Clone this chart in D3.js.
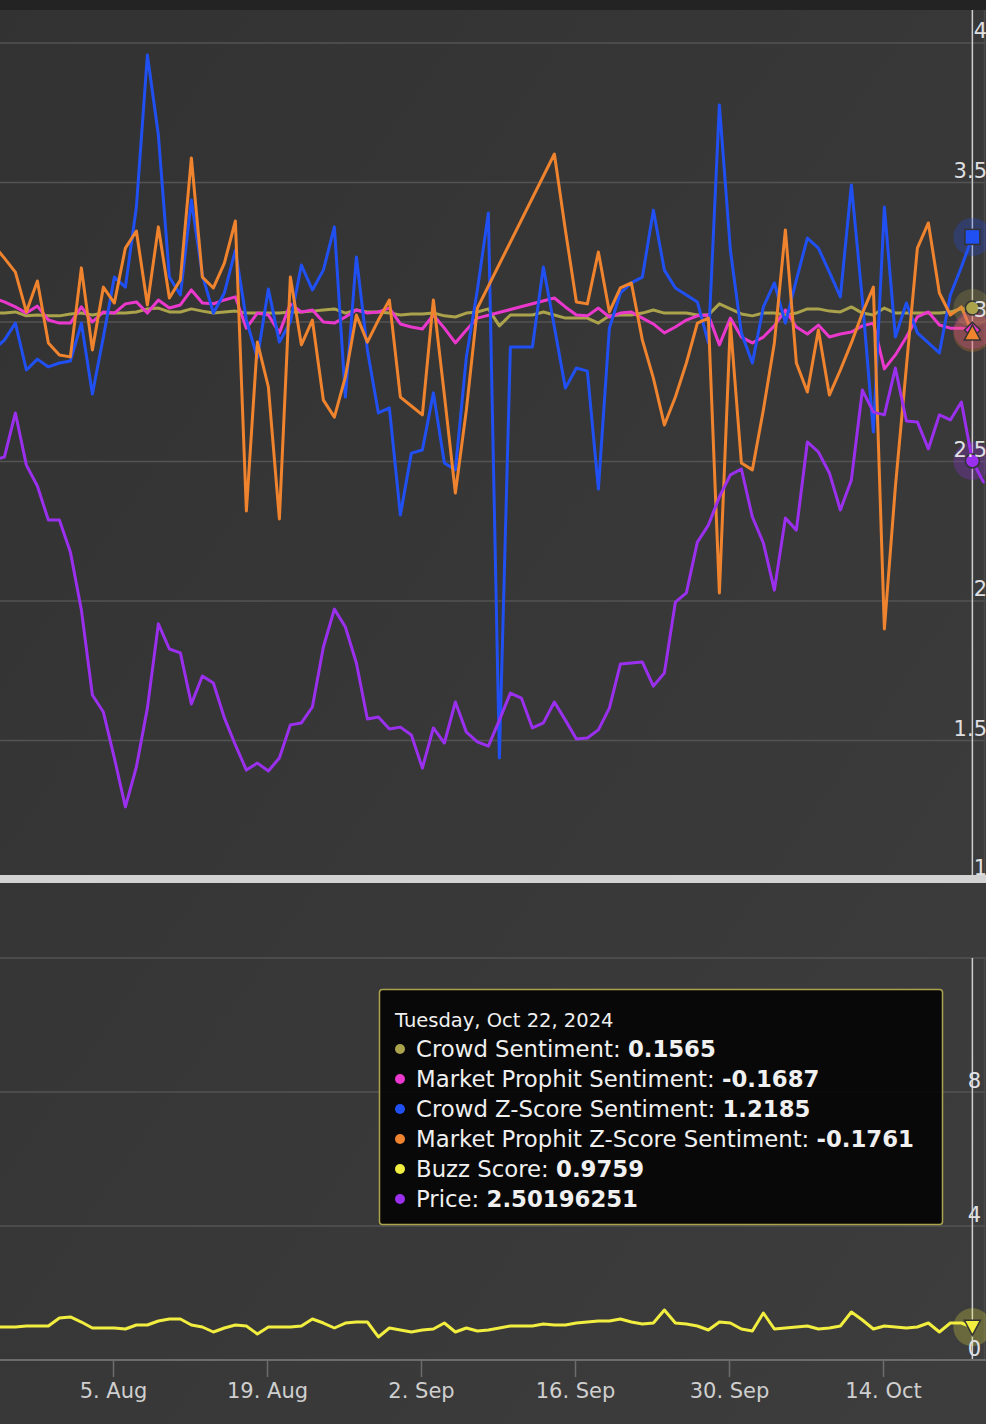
<!DOCTYPE html>
<html><head><meta charset="utf-8">
<script src="https://cdn.jsdelivr.net/npm/d3@7"></script>
<style>html,body{margin:0;padding:0;background:#363636;overflow:hidden}svg{display:block}</style>
</head><body><svg id="c" width="986" height="1424"></svg>
<script>
// ---- data (daily, starting Jul 25 2024) ----
const startDate = "2024-07-25";
const xTickDates = ["2024-08-05","2024-08-19","2024-09-02","2024-09-16","2024-09-30","2024-10-14"];
const topTicks = [1,1.5,2,2.5,3,3.5,4];
const bottomTicks = [0,4,8,12];
const bottomLabelTicks = [0,4,8];
const seriesNames = ["Crowd Sentiment","Market Prophit Sentiment","Crowd Z-Score Sentiment","Market Prophit Z-Score Sentiment","Buzz Score","Price"];
const tooltipDate = "Tuesday, Oct 22, 2024";
const tooltipValues = ["0.1565","-0.1687","1.2185","-0.1761","0.9759","2.50196251"];
const hoverIndex = 89; // Oct 22

const crowdSentiment = [3.032,3.032,3.036,3.022,3.025,3.022,3.022,3.029,3.032,3.025,3.032,
 3.032,3.032,3.036,3.047,3.050,3.036,3.036,3.047,3.039,3.032,
 3.036,3.039,3.032,3.032,3.032,3.032,3.036,3.036,3.039,3.043,
 3.047,3.032,3.043,3.036,3.036,3.032,3.025,3.029,3.029,3.032,
 3.022,3.018,3.032,3.036,3.047,2.986,3.025,3.025,3.025,3.036,
 3.025,3.014,3.014,3.014,2.996,3.022,3.025,3.025,3.032,3.043,
 3.032,3.032,3.032,3.025,3.025,3.065,3.047,3.029,3.022,3.032,
 3.032,3.025,3.032,3.047,3.047,3.039,3.036,3.054,3.032,3.025,
 3.050,3.032,3.032,3.032,3.032,3.032,3.036,3.047,3.050];
const marketProphitSentiment = [3.086,3.072,3.054,3.032,3.057,3.007,2.996,2.996,3.054,3.000,3.036,
 3.032,3.065,3.072,3.032,3.079,3.050,3.061,3.115,3.068,3.065,
 3.079,3.090,2.978,3.032,3.025,2.961,3.065,3.036,3.043,3.000,
 2.996,3.018,3.043,3.032,3.036,3.050,2.993,2.982,2.975,3.025,
 2.978,2.925,2.971,3.014,null,null,null,null,null,null,
 3.086,3.054,3.025,3.022,3.050,3.018,3.032,3.036,3.014,2.993,
 2.961,2.982,3.007,3.022,3.025,2.918,3.014,2.946,2.925,2.946,
 2.986,3.043,2.982,2.957,2.989,2.946,2.957,2.964,2.986,2.996,
 2.832,2.882,2.946,3.018,3.036,2.989,2.978,2.978,2.971];
const crowdZScore = [2.900,2.935,2.996,2.828,2.867,2.839,2.853,2.860,2.996,2.742,2.946,
 3.161,3.125,3.412,3.957,3.670,3.161,3.097,3.437,3.168,3.032,
 3.104,3.258,3.007,2.871,3.118,2.928,3.000,3.204,3.115,3.186,
 3.341,2.731,3.233,2.900,2.674,2.692,2.308,2.530,2.541,2.746,
 2.495,2.470,2.875,3.115,3.391,1.437,2.910,2.910,2.910,3.197,
 2.982,2.763,2.835,2.824,2.401,2.978,3.104,3.140,3.161,3.401,
 3.186,3.122,3.097,3.072,2.925,3.778,3.258,2.961,2.853,3.054,
 3.140,2.996,3.151,3.301,3.265,3.179,3.090,3.491,3.079,2.606,
 3.412,2.946,3.068,2.961,2.925,2.889,3.097,3.197,3.305];
const marketProphitZScore = [3.276,3.229,3.179,3.036,3.147,2.925,2.882,2.875,3.194,2.900,3.125,
 3.068,3.265,3.326,3.061,3.341,3.086,3.151,3.588,3.161,3.122,
 3.211,3.362,2.323,2.928,2.767,2.294,3.161,2.918,3.007,2.720,
 2.659,2.803,3.025,2.928,3.007,3.079,2.731,2.699,2.667,3.079,
 2.738,2.387,2.685,3.050,null,null,null,null,null,null,
 3.602,3.330,3.072,3.065,3.251,3.036,3.122,3.140,2.935,2.799,
 2.631,2.731,2.853,2.996,3.014,2.029,2.996,2.495,2.470,2.685,
 2.925,3.330,2.853,2.749,2.971,2.738,2.828,2.925,3.032,3.125,
 1.900,2.409,2.839,3.265,3.355,3.104,3.025,3.054,2.961];
const buzzScore = [0.985,0.985,0.985,1.015,1.015,1.015,1.254,1.284,1.134,0.955,0.955,
 0.955,0.925,1.045,1.045,1.164,1.224,1.224,1.045,0.985,0.836,
 0.955,1.045,1.015,0.776,0.985,0.985,0.985,1.015,1.224,1.104,
 0.955,1.104,1.134,1.134,0.687,0.955,0.896,0.836,0.896,0.925,
 1.104,0.836,0.955,0.866,0.896,0.955,1.015,1.015,1.015,1.075,
 1.045,1.045,1.104,1.134,1.164,1.164,1.224,1.134,1.075,1.104,
 1.493,1.104,1.075,1.015,0.896,1.134,1.104,0.925,0.866,1.403,
 0.925,0.955,0.985,1.015,0.925,0.955,1.015,1.433,1.194,0.925,
 1.015,0.985,0.955,0.985,1.104,0.836,1.104,1.104,0.976];
const price = [2.505,2.516,2.674,2.487,2.412,2.290,2.290,2.176,1.968,1.663,1.602,
 1.437,1.262,1.405,1.616,1.918,1.828,1.814,1.631,1.731,1.706,
 1.581,1.484,1.394,1.419,1.391,1.437,1.556,1.563,1.620,1.835,
 1.971,1.907,1.778,1.577,1.584,1.541,1.548,1.520,1.401,1.545,
 1.491,1.638,1.530,1.495,1.480,1.573,1.670,1.652,1.545,1.563,
 1.638,1.573,1.505,1.509,1.538,1.616,1.774,1.778,1.781,1.695,
 1.742,1.996,2.029,2.211,2.272,2.373,2.452,2.473,2.301,2.208,
 2.039,2.297,2.254,2.570,2.534,2.459,2.326,2.434,2.756,2.677,
 2.667,2.835,2.645,2.642,2.545,2.667,2.649,2.713,2.502,2.427];

const colors = {olive:"#aba24c", magenta:"#ea38cc", blue:"#2150f2", orange:"#f0842e", yellow:"#f2ee40", purple:"#9a30ee"};

// ---- build ----
const W = 986, H = 1424, FONT = "'DejaVu Sans', 'Lucida Grande', sans-serif";
const svg = d3.select("#c");
const parse = d3.timeParse("%Y-%m-%d");
const t0 = parse(startDate);
const dateAt = i => d3.timeHour.offset(d3.timeDay.offset(t0, i), 3);

const x = d3.scaleTime().domain([parse(xTickDates[0]), parse(xTickDates[5])]).range([113, 883]);
const yTop = d3.scaleLinear().domain([1, 4]).range([880, 43]);
const yBot = d3.scaleLinear().domain([0, 12]).range([1360, 958]);

const defs = svg.append("defs");
const grad = defs.append("linearGradient").attr("id","bg").attr("x1",0).attr("y1",0).attr("x2",1).attr("y2",1);
grad.append("stop").attr("offset","0%").attr("stop-color","#323232");
grad.append("stop").attr("offset","100%").attr("stop-color","#3d3d3e");
defs.append("clipPath").attr("id","clipTop").append("rect").attr("x",0).attr("y",10).attr("width",W).attr("height",870);
defs.append("clipPath").attr("id","clipBot").append("rect").attr("x",0).attr("y",958).attr("width",W).attr("height",402);

svg.append("rect").attr("width",W).attr("height",H).attr("fill","url(#bg)");
svg.append("rect").attr("width",W).attr("height",10).attr("fill","#232323");

// gridlines
svg.append("g").selectAll("line").data(topTicks.filter(v => v > 1)).join("line")
  .attr("x1",0).attr("x2",W).attr("y1",d=>yTop(d)).attr("y2",d=>yTop(d))
  .attr("stroke","#535353").attr("stroke-width",1.5);
svg.append("g").selectAll("line").data(bottomTicks.filter(v => v > 0)).join("line")
  .attr("x1",0).attr("x2",W).attr("y1",d=>yBot(d)).attr("y2",d=>yBot(d))
  .attr("stroke","#535353").attr("stroke-width",1.5);

// faint right border lines
svg.append("line").attr("x1",984.5).attr("x2",984.5).attr("y1",10).attr("y2",875).attr("stroke","#4a4a4a").attr("stroke-width",1.5);
svg.append("line").attr("x1",984.5).attr("x2",984.5).attr("y1",958).attr("y2",1360).attr("stroke","#4a4a4a").attr("stroke-width",1.5);

// crosshair
const hx = x(dateAt(hoverIndex));
svg.append("line").attr("x1",hx).attr("x2",hx).attr("y1",10).attr("y2",880).attr("stroke","#cfcfcf").attr("stroke-width",1.5);
svg.append("line").attr("x1",hx).attr("x2",hx).attr("y1",958).attr("y2",1360).attr("stroke","#cfcfcf").attr("stroke-width",1.5);

function pts(arr){ return arr.map((v,i)=>({d:dateAt(i), v})).filter(p => p.v != null); }

const gTop = svg.append("g").attr("clip-path","url(#clipTop)");
const gBot = svg.append("g").attr("clip-path","url(#clipBot)");
const lineTop = d3.line().x(p=>x(p.d)).y(p=>yTop(p.v));
const lineBot = d3.line().x(p=>x(p.d)).y(p=>yBot(p.v));

const topSeries = [
  {data: crowdSentiment, color: colors.olive},
  {data: marketProphitSentiment, color: colors.magenta},
  {data: crowdZScore, color: colors.blue},
  {data: marketProphitZScore, color: colors.orange},
  {data: price, color: colors.purple}
];
topSeries.forEach(s => {
  gTop.append("path").attr("d", lineTop(pts(s.data))).attr("fill","none")
    .attr("stroke", s.color).attr("stroke-width",3).attr("stroke-linejoin","round").attr("stroke-linecap","round");
});
gBot.append("path").attr("d", lineBot(pts(buzzScore))).attr("fill","none")
  .attr("stroke", colors.yellow).attr("stroke-width",3).attr("stroke-linejoin","round");

// halos + markers at hovered point
const halos = [
  {y: yTop(crowdSentiment[hoverIndex]), c: colors.olive},
  {y: yTop(marketProphitSentiment[hoverIndex]), c: colors.magenta},
  {y: yTop(crowdZScore[hoverIndex]), c: colors.blue},
  {y: yTop(marketProphitZScore[hoverIndex]), c: colors.orange},
  {y: yTop(price[hoverIndex]), c: colors.purple},
  {y: yBot(buzzScore[hoverIndex]), c: colors.yellow}
];
svg.append("g").selectAll("circle").data(halos).join("circle")
  .attr("cx",hx).attr("cy",d=>d.y).attr("r",19).attr("fill",d=>d.c).attr("fill-opacity",0.25);

const mk = svg.append("g").attr("stroke","#333").attr("stroke-width",1.5);
mk.append("circle").attr("cx",hx).attr("cy",yTop(crowdSentiment[hoverIndex])).attr("r",7).attr("fill",colors.olive);
mk.append("path").attr("transform",`translate(${hx},${yTop(marketProphitSentiment[hoverIndex])})`)
  .attr("d",d3.symbol(d3.symbolDiamond2,160)()).attr("fill",colors.magenta);
mk.append("rect").attr("x",hx-7.5).attr("y",yTop(crowdZScore[hoverIndex])-7.5).attr("width",15).attr("height",15).attr("fill",colors.blue);
mk.append("path").attr("transform",`translate(${hx},${yTop(marketProphitZScore[hoverIndex])})`)
  .attr("d","M0,-8L8,7L-8,7Z").attr("fill",colors.orange);
mk.append("circle").attr("cx",hx).attr("cy",yTop(price[hoverIndex])).attr("r",7).attr("fill",colors.purple);
mk.append("path").attr("transform",`translate(${hx},${yBot(buzzScore[hoverIndex])})`)
  .attr("d","M-8,-7L8,-7L0,8Z").attr("fill",colors.yellow);

// separator band
svg.append("rect").attr("x",0).attr("y",875).attr("width",W).attr("height",8).attr("fill","#d3d3d3");

// y labels
svg.append("g").selectAll("text").data(topTicks).join("text")
  .attr("x",987).attr("y",d=>yTop(d)-5).attr("text-anchor","end")
  .attr("font-family",FONT).attr("font-size",21).attr("fill","#e0e0e3").text(d=>d3.format("")(d));
svg.append("g").selectAll("text").data(bottomLabelTicks).join("text")
  .attr("x",981).attr("y",d=>yBot(d)-4).attr("text-anchor","end")
  .attr("font-family",FONT).attr("font-size",21).attr("fill","#e0e0e3").text(d=>d3.format("")(d));

// x axis
svg.append("line").attr("x1",0).attr("x2",W).attr("y1",1360).attr("y2",1360).attr("stroke","#6c6c6c").attr("stroke-width",2);
const xAxis = d3.axisBottom(x).tickValues(xTickDates.map(parse)).tickFormat(d3.timeFormat("%-d. %b")).tickSize(17).tickPadding(6);
const gx = svg.append("g").attr("transform","translate(0,1360)").call(xAxis);
gx.select(".domain").remove();
gx.selectAll(".tick line").attr("stroke","#6c6c6c").attr("stroke-width",1.5);
gx.selectAll(".tick text").attr("font-family",FONT).attr("font-size",21).attr("fill","#cfcfcf");

// tooltip
const tt = svg.append("g");
tt.append("rect").attr("x",379.5).attr("y",989.5).attr("width",563).attr("height",235).attr("rx",3)
  .attr("fill","rgba(0,0,0,0.86)").attr("stroke",colors.olive).attr("stroke-width",1.5);
tt.append("text").attr("x",395).attr("y",1027).attr("font-family",FONT).attr("font-size",19.5).attr("fill","#f0f0f0").text(tooltipDate);
const dotColors = [colors.olive, colors.magenta, colors.blue, colors.orange, colors.yellow, colors.purple];
seriesNames.forEach((name,i) => {
  const cy = 1049 + i*30;
  tt.append("circle").attr("cx",400).attr("cy",cy).attr("r",5).attr("fill",dotColors[i]);
  const t = tt.append("text").attr("x",416).attr("y",cy+8).attr("font-family",FONT).attr("font-size",22.8).attr("fill","#f0f0f0");
  t.append("tspan").text(name + ": ");
  t.append("tspan").attr("font-weight","bold").text(tooltipValues[i]);
});
</script></body></html>
